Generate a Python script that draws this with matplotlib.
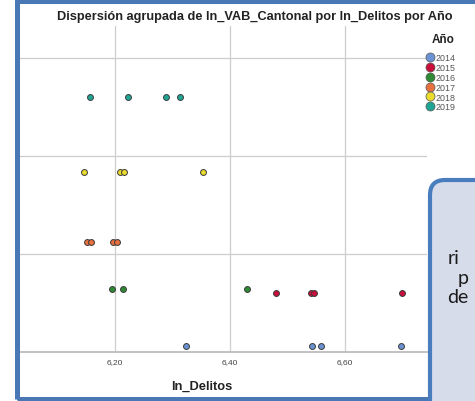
import matplotlib.pyplot as plt
from matplotlib.lines import Line2D
from matplotlib.patches import FancyBboxPatch, Rectangle

# values (y axis has no visible labels, units are relative)
YEARS = ["2014", "2015", "2016", "2017", "2018", "2019"]
COLORS = ["#6b93d3", "#c8103a", "#2f8a34", "#e8703e", "#e9dc2c", "#1fa594"]

delitos_2014 = [6.323, 6.543, 6.557, 6.696]
vab_2014 = [12.03, 12.03, 12.03, 12.03]
delitos_2015 = [6.480, 6.541, 6.546, 6.699]
vab_2015 = [12.30, 12.30, 12.30, 12.30]
delitos_2016 = [6.195, 6.214, 6.430]
vab_2016 = [12.32, 12.32, 12.32]
delitos_2017 = [6.151, 6.158, 6.197, 6.203]
vab_2017 = [12.56, 12.56, 12.56, 12.56]
delitos_2018 = [6.146, 6.209, 6.216, 6.353]
vab_2018 = [12.92, 12.92, 12.92, 12.92]
delitos_2019 = [6.157, 6.223, 6.289, 6.313]
vab_2019 = [13.30, 13.30, 13.30, 13.30]

XTICKS = [6.2, 6.4, 6.6]
XTICKLABELS = ["6,20", "6,40", "6,60"]
YGRID = [12.5, 13.0, 13.5]

W, H = 475, 402
plt.rcParams["font.family"] = ["Liberation Sans", "DejaVu Sans"]


def plot_dispersion(outfile="out.png"):
    fig = plt.figure(figsize=(W / 100, H / 100), dpi=100)
    left, right, top, bottom = 19, 427, 27, 353
    ax = fig.add_axes(
        [left / W, (H - bottom) / H, (right - left) / W, (bottom - top) / H]
    )

    series = [
        (delitos_2014, vab_2014),
        (delitos_2015, vab_2015),
        (delitos_2016, vab_2016),
        (delitos_2017, vab_2017),
        (delitos_2018, vab_2018),
        (delitos_2019, vab_2019),
    ]
    for (x, y), color in zip(series, COLORS):
        ax.scatter(x, y, s=18, color=color, edgecolor="#3a3a3a",
                   linewidth=0.7, zorder=3)

    ax.set_xlim(6.033, 6.742)
    ax.set_ylim(12.0, 13.663)
    ax.set_xticks(XTICKS)
    ax.set_xticklabels(XTICKLABELS, fontsize=6, color="#444444")
    ax.set_yticks(YGRID)
    ax.set_yticklabels([])
    ax.tick_params(length=0, pad=4.5)
    ax.grid(True, color="#cdcdcd", linewidth=0.9)
    ax.set_axisbelow(True)
    for side in ["top", "right", "left"]:
        ax.spines[side].set_visible(False)
    ax.spines["bottom"].set_color("#bdbdbd")
    ax.spines["bottom"].set_linewidth(1.3)

    ax.set_xlabel("ln_Delitos", fontsize=9.3, fontweight="bold", color="#222222")
    ax.xaxis.set_label_coords((202 - left) / (right - left), -(387 - bottom) / (bottom - top))
    ax.xaxis.label.set_va("center")

    fig.text(255 / W, 1 - 17 / H,
             "Dispersión agrupada de ln_VAB_Cantonal por ln_Delitos por Año",
             ha="center", va="center", fontsize=9.2, fontweight="bold",
             color="#222222")

    # legend, title placed separately to get the wider gap
    fig.text(443 / W, 1 - 40 / H, "Año", ha="center", va="center",
             fontsize=8.5, fontweight="bold", color="#222222")
    handles = [
        Line2D([], [], marker="o", linestyle="", markersize=6.5,
               markerfacecolor=c, markeredgecolor="#555555",
               markeredgewidth=0.5, label=yr)
        for yr, c in zip(YEARS, COLORS)
    ]
    fig.legend(
        handles=handles, loc="upper left",
        bbox_to_anchor=(426 / W, 1 - 54 / H), frameon=False,
        fontsize=6.4, labelspacing=0.1, handletextpad=0.15,
        handlelength=0.9, borderpad=0, borderaxespad=0,
        labelcolor="#555555",
    )

    # blue frame around the chart
    frame = Rectangle((16.5 / 100, 2 / 100), 6.0, (H - 4) / 100,
                      transform=fig.dpi_scale_trans, fill=False,
                      edgecolor="#4a78b5", linewidth=3.6, zorder=20)
    fig.add_artist(frame)

    # callout box partly outside the picture
    box = FancyBboxPatch((430 / 100, -0.2), 1.0, (H - 181) / 100 + 0.2,
                         boxstyle="round,pad=0,rounding_size=0.15",
                         transform=fig.dpi_scale_trans,
                         facecolor="#d6dcea", edgecolor="#4a7dbd",
                         linewidth=3.0, zorder=21)
    fig.add_artist(box)
    for s, px, py in [("ri", 448, 259), ("p", 458, 279), ("de", 447, 298)]:
        fig.text(px / W, 1 - py / H, s, ha="left", va="center",
                 fontsize=14, family=["Lato", "DejaVu Sans"],
                 color="#1a1a1a", zorder=22)

    fig.savefig(outfile, dpi=100)
    plt.close(fig)


if __name__ == "__main__":
    plot_dispersion()
